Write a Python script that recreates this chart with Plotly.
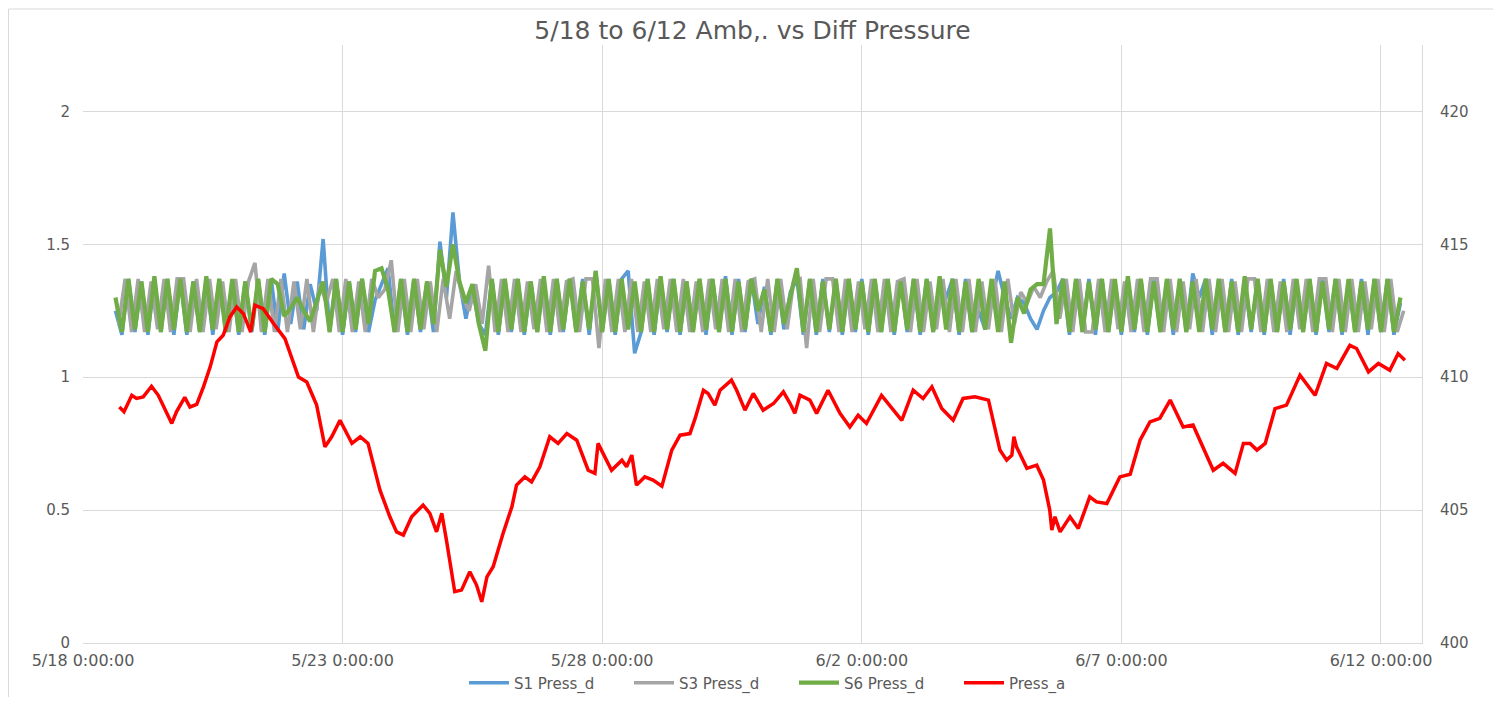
import pandas as pd
import plotly.graph_objects as go

# ---------------- data ----------------
s1_start = "2019-05-18 15:00"     # first logged sample of each sensor
s3_start = "2019-05-18 16:30"
s6_start = "2019-05-18 15:00"
sample_freq = "3h"

s1_press_d = [
    1.25, 1.16, 1.37, 1.17, 1.36, 1.16, 1.37, 1.17, 1.37, 1.16,
    1.37, 1.16, 1.36, 1.17, 1.37, 1.16, 1.37, 1.17, 1.36, 1.16,
    1.36, 1.17, 1.37, 1.16, 1.37, 1.17, 1.39, 1.20, 1.36, 1.18,
    1.35, 1.25, 1.52, 1.17, 1.37, 1.16, 1.36, 1.17, 1.37, 1.17,
    1.29, 1.35, 1.41, 1.17, 1.37, 1.16, 1.37, 1.17, 1.36, 1.17,
    1.51, 1.30, 1.62, 1.36, 1.22, 1.34, 1.20, 1.16, 1.37, 1.16,
    1.37, 1.17, 1.37, 1.16, 1.36, 1.17, 1.37, 1.16, 1.37, 1.17,
    1.37, 1.17, 1.37, 1.16, 1.40, 1.17, 1.37, 1.16, 1.37, 1.40,
    1.09, 1.17, 1.37, 1.16, 1.37, 1.17, 1.37, 1.16, 1.36, 1.17,
    1.37, 1.16, 1.37, 1.17, 1.38, 1.16, 1.37, 1.17, 1.37, 1.20,
    1.34, 1.16, 1.37, 1.18, 1.32, 1.37, 1.16, 1.37, 1.16, 1.37,
    1.17, 1.37, 1.16, 1.37, 1.17, 1.37, 1.16, 1.37, 1.17, 1.37,
    1.16, 1.37, 1.17, 1.37, 1.16, 1.37, 1.17, 1.32, 1.30, 1.37,
    1.16, 1.37, 1.17, 1.25, 1.18, 1.28, 1.40, 1.30, 1.22, 1.30,
    1.28, 1.22, 1.18, 1.25, 1.30, 1.32, 1.37, 1.16, 1.37, 1.17,
    1.37, 1.16, 1.37, 1.17, 1.36, 1.16, 1.37, 1.17, 1.37, 1.16,
    1.37, 1.17, 1.36, 1.16, 1.37, 1.17, 1.39, 1.30, 1.37, 1.16,
    1.37, 1.17, 1.37, 1.16, 1.36, 1.17, 1.37, 1.16, 1.37, 1.17,
    1.37, 1.16, 1.36, 1.17, 1.37, 1.16, 1.37, 1.17, 1.37, 1.16,
    1.36, 1.17, 1.37, 1.16, 1.37, 1.17, 1.37, 1.16, 1.28,
]

s3_press_d = [
    1.20, 1.37, 1.17, 1.37, 1.17, 1.36, 1.18, 1.37, 1.17, 1.37,
    1.37, 1.17, 1.37, 1.17, 1.37, 1.18, 1.36, 1.17, 1.37, 1.17,
    1.36, 1.43, 1.17, 1.37, 1.17, 1.37, 1.17, 1.36, 1.18, 1.37,
    1.17, 1.35, 1.28, 1.37, 1.17, 1.37, 1.17, 1.36, 1.17, 1.37,
    1.30, 1.33, 1.44, 1.17, 1.37, 1.17, 1.37, 1.18, 1.36, 1.17,
    1.37, 1.22, 1.40, 1.30, 1.25, 1.35, 1.20, 1.42, 1.17, 1.37,
    1.17, 1.37, 1.17, 1.36, 1.18, 1.37, 1.17, 1.37, 1.17, 1.36,
    1.37, 1.17, 1.37, 1.37, 1.11, 1.37, 1.17, 1.37, 1.17, 1.37,
    1.17, 1.36, 1.17, 1.37, 1.18, 1.37, 1.17, 1.37, 1.17, 1.36,
    1.17, 1.37, 1.18, 1.37, 1.17, 1.37, 1.17, 1.36, 1.37, 1.17,
    1.37, 1.17, 1.37, 1.18, 1.36, 1.37, 1.11, 1.37, 1.17, 1.37,
    1.37, 1.17, 1.37, 1.17, 1.36, 1.18, 1.37, 1.17, 1.37, 1.17,
    1.36, 1.37, 1.17, 1.37, 1.17, 1.36, 1.18, 1.37, 1.17, 1.37,
    1.17, 1.37, 1.17, 1.36, 1.18, 1.37, 1.17, 1.37, 1.20, 1.32,
    1.28, 1.34, 1.30, 1.36, 1.40, 1.22, 1.37, 1.17, 1.37, 1.17,
    1.17, 1.37, 1.17, 1.37, 1.18, 1.36, 1.17, 1.37, 1.17, 1.37,
    1.37, 1.17, 1.37, 1.17, 1.36, 1.18, 1.37, 1.17, 1.37, 1.17,
    1.37, 1.17, 1.36, 1.17, 1.37, 1.37, 1.17, 1.37, 1.17, 1.36,
    1.17, 1.37, 1.18, 1.37, 1.17, 1.37, 1.37, 1.17, 1.37, 1.17,
    1.37, 1.17, 1.36, 1.18, 1.37, 1.17, 1.37, 1.17, 1.25,
]

s6_press_d = [
    1.30, 1.17, 1.37, 1.18, 1.36, 1.17, 1.38, 1.17, 1.37, 1.18,
    1.37, 1.17, 1.36, 1.17, 1.38, 1.18, 1.37, 1.17, 1.37, 1.17,
    1.36, 1.18, 1.37, 1.17, 1.37, 1.35, 1.23, 1.26, 1.30, 1.25,
    1.21, 1.28, 1.36, 1.17, 1.37, 1.17, 1.36, 1.18, 1.37, 1.20,
    1.40, 1.41, 1.33, 1.17, 1.37, 1.17, 1.37, 1.18, 1.36, 1.20,
    1.48, 1.34, 1.50, 1.36, 1.28, 1.35, 1.20, 1.10, 1.37, 1.17,
    1.37, 1.18, 1.37, 1.17, 1.36, 1.17, 1.38, 1.17, 1.37, 1.18,
    1.37, 1.17, 1.36, 1.18, 1.40, 1.17, 1.37, 1.17, 1.37, 1.18,
    1.36, 1.17, 1.37, 1.17, 1.38, 1.18, 1.37, 1.17, 1.36, 1.17,
    1.37, 1.18, 1.37, 1.17, 1.37, 1.17, 1.36, 1.18, 1.37, 1.25,
    1.33, 1.17, 1.37, 1.20, 1.30, 1.41, 1.17, 1.37, 1.17, 1.36,
    1.18, 1.37, 1.17, 1.37, 1.18, 1.36, 1.17, 1.37, 1.17, 1.37,
    1.17, 1.36, 1.18, 1.37, 1.17, 1.37, 1.17, 1.38, 1.18, 1.37,
    1.17, 1.36, 1.17, 1.37, 1.18, 1.37, 1.17, 1.36, 1.13, 1.30,
    1.24, 1.33, 1.35, 1.35, 1.56, 1.20, 1.37, 1.17, 1.37, 1.17,
    1.36, 1.18, 1.37, 1.17, 1.37, 1.17, 1.38, 1.18, 1.37, 1.17,
    1.36, 1.17, 1.37, 1.18, 1.37, 1.17, 1.36, 1.17, 1.37, 1.18,
    1.37, 1.17, 1.36, 1.17, 1.38, 1.18, 1.37, 1.17, 1.37, 1.17,
    1.36, 1.18, 1.37, 1.17, 1.37, 1.17, 1.36, 1.18, 1.37, 1.17,
    1.37, 1.17, 1.36, 1.18, 1.37, 1.17, 1.37, 1.17, 1.30,
]

# ambient pressure: elapsed days since 5/18 0:00 and readings
press_a_days = [
    0.70, 0.79, 0.94, 1.03, 1.16, 1.32, 1.45, 1.58, 1.71, 1.80,
    1.96, 2.06, 2.19, 2.32, 2.45, 2.58, 2.70, 2.83, 2.96, 3.09,
    3.23, 3.31, 3.47, 3.67, 3.89, 4.15, 4.31, 4.50, 4.66, 4.79,
    4.95, 5.18, 5.34, 5.49, 5.72, 5.91, 6.04, 6.17, 6.33, 6.55,
    6.68, 6.81, 6.91, 7.00, 7.16, 7.29, 7.45, 7.58, 7.68, 7.78,
    7.90, 8.09, 8.26, 8.35, 8.51, 8.64, 8.80, 8.99, 9.15, 9.32,
    9.51, 9.73, 9.86, 9.92, 10.05, 10.18, 10.38, 10.47, 10.57, 10.66,
    10.82, 10.98, 11.15, 11.34, 11.50, 11.69, 11.79, 11.95, 12.04, 12.17,
    12.27, 12.49, 12.59, 12.75, 12.91, 13.10, 13.30, 13.49, 13.62, 13.71,
    13.81, 14.00, 14.13, 14.35, 14.58, 14.77, 14.93, 15.09, 15.38, 15.58,
    15.77, 15.99, 16.18, 16.35, 16.54, 16.76, 16.95, 17.18, 17.44, 17.66,
    17.79, 17.89, 17.93, 17.98, 18.18, 18.37, 18.50, 18.62, 18.66, 18.72,
    18.82, 19.01, 19.17, 19.39, 19.52, 19.72, 19.97, 20.17, 20.36, 20.55,
    20.74, 20.94, 21.19, 21.38, 21.55, 21.77, 21.96, 22.19, 22.35, 22.48,
    22.61, 22.77, 22.96, 23.18, 23.44, 23.73, 23.95, 24.15, 24.40, 24.53,
    24.76, 24.95, 25.17, 25.33, 25.46,
]
press_a = [
    408.88, 408.70, 409.32, 409.20, 409.26, 409.66, 409.32, 408.76, 408.26, 408.70,
    409.24, 408.88, 408.98, 409.64, 410.39, 411.33, 411.58, 412.27, 412.64, 412.39,
    411.70, 412.71, 412.58, 412.02, 411.45, 410.01, 409.82, 408.95, 407.38, 407.76,
    408.38, 407.51, 407.76, 407.51, 405.75, 404.75, 404.18, 404.06, 404.75, 405.19,
    404.88, 404.18, 404.88, 403.87, 401.93, 401.99, 402.68, 402.18, 401.55, 402.49,
    402.87, 404.12, 405.12, 405.94, 406.25, 406.06, 406.63, 407.76, 407.51, 407.88,
    407.63, 406.50, 406.38, 407.51, 407.00, 406.50, 406.88, 406.63, 407.07, 405.94,
    406.25, 406.13, 405.90, 407.26, 407.82, 407.88, 408.45, 409.51, 409.39, 408.95,
    409.51, 409.89, 409.51, 408.76, 409.39, 408.76, 409.01, 409.45, 409.01, 408.64,
    409.32, 409.14, 408.64, 409.51, 408.64, 408.13, 408.57, 408.26, 409.32, 408.82,
    408.38, 409.51, 409.20, 409.64, 408.82, 408.38, 409.20, 409.26, 409.14, 407.26,
    406.88, 407.07, 407.76, 407.38, 406.57, 406.69, 406.13, 405.00, 404.25, 404.75,
    404.18, 404.75, 404.31, 405.50, 405.31, 405.25, 406.25, 406.35, 407.63, 408.32,
    408.45, 409.14, 408.13, 408.20, 407.44, 406.50, 406.76, 406.38, 407.51, 407.51,
    407.26, 407.51, 408.82, 408.95, 410.08, 409.32, 410.52, 410.33, 411.20, 411.08,
    410.20, 410.52, 410.26, 410.89, 410.64,
]

x_tick_dates = ["2019-05-18", "2019-05-23", "2019-05-28", "2019-06-02", "2019-06-07", "2019-06-12"]
x_tick_text = ["5/18 0:00:00", "5/23 0:00:00", "5/28 0:00:00", "6/2 0:00:00", "6/7 0:00:00", "6/12 0:00:00"]
left_ticks = [0, 0.5, 1, 1.5, 2]
left_tick_text = ["0", "0.5", "1", "1.5", "2"]
right_ticks = [400, 405, 410, 415, 420]

title_text = "5/18 to 6/12 Amb,. vs Diff Pressure"

# ---------------- figure ----------------
base = pd.Timestamp("2019-05-18 00:00")
press_a_time = base + pd.to_timedelta(press_a_days, unit="D")

def times_for(start, values):
    return pd.date_range(start, periods=len(values), freq=sample_freq)

FONT = "'DejaVu Sans', sans-serif"
TXT = "#595959"
GRID = "#D9D9D9"

# page body keeps an 8px margin, so the figure is 16px smaller than the window
W, H = 1485, 689
PL, PR, PT, PB = 75, 1414, 36.5, 635       # plot area in figure pixels
PW, PH = PR - PL, PB - PT

fig = go.Figure()
fig.add_trace(go.Scatter(x=times_for(s1_start, s1_press_d), y=s1_press_d, name="S1 Press_d",
                         mode="lines", line=dict(color="#5B9BD5", width=3.6)))
fig.add_trace(go.Scatter(x=times_for(s3_start, s3_press_d), y=s3_press_d, name="S3 Press_d",
                         mode="lines", line=dict(color="#A5A5A5", width=3.6)))
fig.add_trace(go.Scatter(x=times_for(s6_start, s6_press_d), y=s6_press_d, name="S6 Press_d",
                         mode="lines", line=dict(color="#70AD47", width=4.2)))
fig.add_trace(go.Scatter(x=press_a_time, y=press_a, name="Press_a", yaxis="y2",
                         mode="lines", line=dict(color="#FF0000", width=3.5)))

fig.update_layout(
    width=W, height=H,
    paper_bgcolor="white", plot_bgcolor="white",
    margin=dict(l=PL, r=W - PR, t=PT, b=H - PB, autoexpand=False),
    title=dict(text=title_text, x=0.5, xref="paper", xanchor="center",
               y=1 - 22 / H, yref="container", yanchor="middle",
               pad=dict(t=0, b=0, l=0, r=0),
               font=dict(family=FONT, size=25, color=TXT)),
    font=dict(family=FONT, size=16, color=TXT),
    showlegend=True,
    legend=dict(orientation="h", x=(464 - 83) / PW, xanchor="left",
                y=-(675 - PB) / PH, yanchor="middle",
                font=dict(family=FONT, size=15, color=TXT), itemwidth=40,
                entrywidth=110, entrywidthmode="pixels",
                bgcolor="rgba(0,0,0,0)"),
    xaxis=dict(type="date", automargin=False,
               range=[base, base + pd.Timedelta(days=25.79)],
               tickvals=x_tick_dates, ticktext=x_tick_text,
               showgrid=True, gridcolor=GRID, gridwidth=1,
               showline=True, linecolor=GRID, linewidth=1,
               ticks="", zeroline=False, ticklabelstandoff=3,
               tickfont=dict(family=FONT, size=16, color=TXT)),
    yaxis=dict(range=[0, 2.25], tickvals=left_ticks, ticktext=left_tick_text,
               automargin=False,
               showgrid=True, gridcolor=GRID, gridwidth=1, zeroline=False,
               showline=False, ticks="", ticklabelstandoff=12,
               tickfont=dict(family=FONT, size=15, color=TXT)),
    yaxis2=dict(range=[400, 422.5], tickvals=right_ticks, overlaying="y", side="right",
                automargin=False,
                showgrid=False, zeroline=False, showline=True, linecolor=GRID,
                ticks="", ticklabelstandoff=14,
                tickfont=dict(family=FONT, size=15, color=TXT)),
    shapes=[dict(type="rect", xref="paper", yref="paper",
                 x0=-(PL - 0.5) / PW, x1=(W + 4 - PL) / PW,
                 y0=-(H + 4 - PB) / PH, y1=(PB - 0.5) / PH,
                 line=dict(color=GRID, width=1), fillcolor="rgba(0,0,0,0)", layer="below")],
)

fig.write_html("out.html")
